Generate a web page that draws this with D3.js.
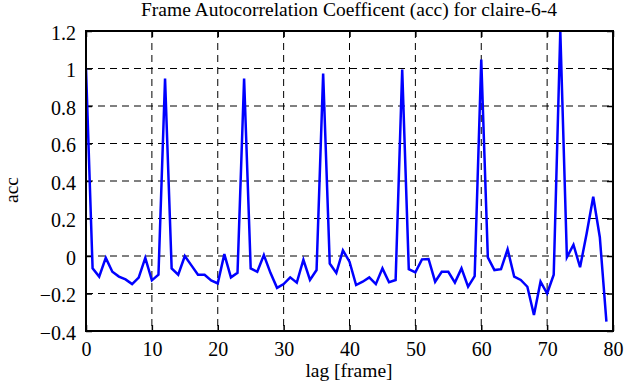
<!DOCTYPE html>
<html>
<head>
<meta charset="utf-8">
<script src="https://cdn.jsdelivr.net/npm/d3@7"></script>
<style>
  body { margin: 0; background: #fff; }
  svg text { font-family: "Liberation Serif", "DejaVu Serif", serif; fill: #000; }
</style>
</head>
<body>
<svg id="chart" width="625" height="387"></svg>
<script>
// values
var lags = d3.range(0, 80);
var acc = [
  1.0, -0.066, -0.11, -0.01, -0.084, -0.11, -0.125, -0.15, -0.115, -0.01,
  -0.13, -0.10, 0.947, -0.066, -0.10, 0.0, -0.05, -0.10, -0.10, -0.13,
  -0.146, 0.01, -0.114, -0.09, 0.947, -0.066, -0.084, 0.005, -0.09, -0.17,
  -0.15, -0.114, -0.142, -0.02, -0.128, -0.075, 0.973, -0.04, -0.09, 0.03,
  -0.03, -0.155, -0.137, -0.114, -0.15, -0.066, -0.14, -0.128, 0.995, -0.07,
  -0.087, -0.018, -0.016, -0.137, -0.084, -0.084, -0.142, -0.066, -0.164, -0.107,
  1.048, -0.007, -0.075, -0.07, 0.036, -0.11, -0.128, -0.164, -0.315, -0.137,
  -0.2, -0.10, 1.2, -0.007, 0.06, -0.06, 0.12, 0.316, 0.10, -0.35
];
var xTicks = [0, 10, 20, 30, 40, 50, 60, 70, 80];
var yTicks = [-0.4, -0.2, 0, 0.2, 0.4, 0.6, 0.8, 1, 1.2];

var title = "Frame Autocorrelation Coefficent (acc) for claire-6-4",
    xLabel = "lag [frame]",
    yLabel = "acc";

var svg = d3.select("#chart"),
    margin = {top: 31, right: 12, bottom: 56, left: 86},
    width = +svg.attr("width") - margin.left - margin.right,
    height = +svg.attr("height") - margin.top - margin.bottom;

var x = d3.scaleLinear().domain([0, 80]).range([0, width]);
var y = d3.scaleLinear().domain([-0.4, 1.2]).range([height, 0]);

var g = svg.append("g").attr("transform", "translate(" + margin.left + "," + margin.top + ")");

// dashed grid
g.append("g").selectAll("line")
  .data(xTicks.slice(1, -1))
  .enter().append("line")
  .attr("x1", d => x(d)).attr("x2", d => x(d))
  .attr("y1", 0).attr("y2", height)
  .attr("stroke", "#000").attr("stroke-width", 1).attr("stroke-dasharray", "7,5");
g.append("g").selectAll("line")
  .data(yTicks.slice(1, -1))
  .enter().append("line")
  .attr("y1", d => y(d)).attr("y2", d => y(d))
  .attr("x1", 0).attr("x2", width)
  .attr("stroke", "#000").attr("stroke-width", 1).attr("stroke-dasharray", "7,5");

// axes, ticks pointing inwards
var xAxis = g.append("g").attr("transform", "translate(0," + height + ")")
  .call(d3.axisBottom(x).tickValues(xTicks).tickSize(-6).tickPadding(11).tickFormat(d3.format("d")));
var xTop = g.append("g")
  .call(d3.axisTop(x).tickValues(xTicks).tickSize(-6).tickFormat(""));
var yAxis = g.append("g")
  .call(d3.axisLeft(y).tickValues(yTicks).tickSize(-6).tickPadding(10).tickFormat(d => d3.format("")(+d.toFixed(1))));
var yRight = g.append("g").attr("transform", "translate(" + width + ",0)")
  .call(d3.axisRight(y).tickValues(yTicks).tickSize(-6).tickFormat(""));

[xAxis, xTop, yAxis, yRight].forEach(function(a) {
  a.attr("font-family", "Liberation Serif, serif").attr("font-size", 20);
  a.select(".domain").remove();
  a.selectAll(".tick line").attr("stroke", "#000").attr("stroke-width", 1.5);
  a.selectAll("text").attr("fill", "#000");
});
yAxis.selectAll("text").attr("dy", "0.42em");

// the series
var line = d3.line()
  .x(function(d, i) { return x(lags[i]); })
  .y(function(d) { return y(d); });

g.append("clipPath").attr("id", "clip")
  .append("rect").attr("width", width).attr("height", height);

g.append("path")
  .datum(acc)
  .attr("clip-path", "url(#clip)")
  .attr("fill", "none")
  .attr("stroke", "#0000ff")
  .attr("stroke-width", 2.5)
  .attr("stroke-linejoin", "miter")
  .attr("d", line);

// frame
g.append("rect")
  .attr("width", width).attr("height", height)
  .attr("fill", "none").attr("stroke", "#000").attr("stroke-width", 2);

// labels
svg.append("text")
  .attr("x", 349).attr("y", 16)
  .attr("text-anchor", "middle")
  .style("font-size", "19.5px")
  .text(title);

svg.append("text")
  .attr("x", 349).attr("y", 377)
  .attr("text-anchor", "middle")
  .style("font-size", "19.5px")
  .text(xLabel);

svg.append("text")
  .attr("transform", "translate(18,190) rotate(-90)")
  .attr("text-anchor", "middle")
  .style("font-size", "19.5px")
  .text(yLabel);
</script>
</body>
</html>
